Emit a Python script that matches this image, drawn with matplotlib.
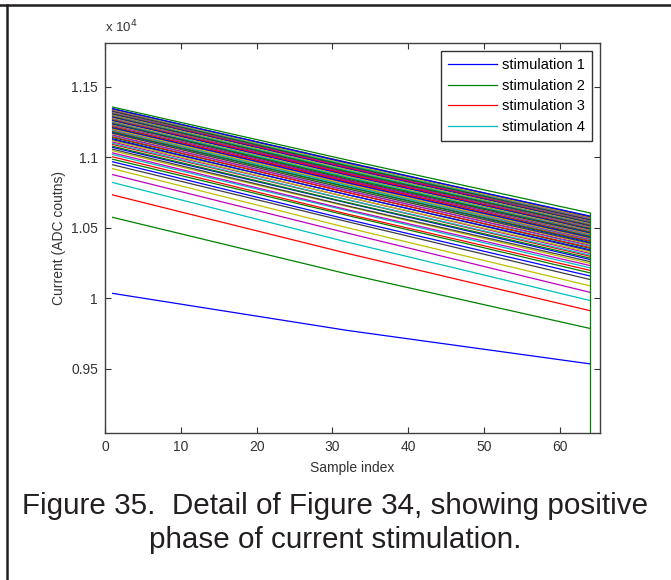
import numpy as np
import matplotlib.pyplot as plt
from matplotlib.lines import Line2D

#==============================================================================
# readings, current in units of 1e4 ADC counts
# one entry per stimulation, values at sample 1, sample 32 and sample 64
#==============================================================================
sample_knots = [1, 32, 64]

start_vals = [1.0035, 1.0574, 1.0733, 1.0821, 1.0877, 1.0919, 1.0947, 1.0968,
              1.0986, 1.1003, 1.1019, 1.1031, 1.1046, 1.1057, 1.1070, 1.1078,
              1.1091, 1.1099, 1.1108, 1.1117, 1.1125, 1.1131, 1.1140, 1.1146,
              1.1153, 1.1158, 1.1166, 1.1170, 1.1177, 1.1181, 1.1188, 1.1192,
              1.1198, 1.1201, 1.1207, 1.1211, 1.1216, 1.1219, 1.1225, 1.1228,
              1.1232, 1.1236, 1.1239, 1.1243, 1.1247, 1.1249, 1.1254, 1.1256,
              1.1261, 1.1263, 1.1268, 1.1270, 1.1274, 1.1278, 1.1280, 1.1285,
              1.1287, 1.1291, 1.1294, 1.1297, 1.1301, 1.1303, 1.1307, 1.1310,
              1.1312, 1.1316, 1.1318, 1.1321, 1.1324, 1.1326, 1.1329, 1.1331,
              1.1333, 1.1336, 1.1338, 1.1340, 1.1343, 1.1345, 1.1356]

mid_vals = [0.9772, 1.0172, 1.0318, 1.0398, 1.0462, 1.0500, 1.0543, 1.0559,
            1.0587, 1.0597, 1.0621, 1.0628, 1.0651, 1.0655, 1.0676, 1.0679,
            1.0698, 1.0699, 1.0717, 1.0718, 1.0735, 1.0734, 1.0751, 1.0750,
            1.0765, 1.0763, 1.0779, 1.0776, 1.0791, 1.0788, 1.0803, 1.0799,
            1.0813, 1.0809, 1.0823, 1.0819, 1.0833, 1.0828, 1.0842, 1.0837,
            1.0850, 1.0845, 1.0858, 1.0853, 1.0866, 1.0860, 1.0873, 1.0867,
            1.0880, 1.0874, 1.0887, 1.0881, 1.0894, 1.0889, 1.0900, 1.0895,
            1.0907, 1.0902, 1.0913, 1.0908, 1.0920, 1.0914, 1.0926, 1.0921,
            1.0931, 1.0927, 1.0937, 1.0932, 1.0943, 1.0937, 1.0948, 1.0942,
            1.0952, 1.0948, 1.0958, 1.0953, 1.0964, 1.0960, 1.0980]

end_vals = [0.9535, 0.9786, 0.9912, 0.9984, 1.0042, 1.0088, 1.0133, 1.0158,
            1.0180, 1.0198, 1.0216, 1.0232, 1.0247, 1.0260, 1.0275, 1.0285,
            1.0298, 1.0306, 1.0318, 1.0326, 1.0337, 1.0344, 1.0354, 1.0360,
            1.0369, 1.0376, 1.0383, 1.0390, 1.0396, 1.0403, 1.0408, 1.0415,
            1.0419, 1.0426, 1.0430, 1.0436, 1.0440, 1.0446, 1.0449, 1.0455,
            1.0458, 1.0463, 1.0467, 1.0471, 1.0475, 1.0479, 1.0483, 1.0486,
            1.0490, 1.0494, 1.0497, 1.0501, 1.0504, 1.0508, 1.0511, 1.0514,
            1.0518, 1.0521, 1.0524, 1.0527, 1.0531, 1.0533, 1.0537, 1.0540,
            1.0542, 1.0546, 1.0548, 1.0551, 1.0554, 1.0556, 1.0559, 1.0562,
            1.0564, 1.0567, 1.0570, 1.0574, 1.0578, 1.0583, 1.0605]

# the last trace falls off the bottom at sample 64
drop_val = 0.80

legend_labels = ['stimulation 1', 'stimulation 2', 'stimulation 3',
                 'stimulation 4']

x_ticks = [0, 10, 20, 30, 40, 50, 60]
y_ticks = [0.95, 1.0, 1.05, 1.1, 1.15]
y_tick_labels = ['0.95', '1', '1.05', '1.1', '1.15']

# old matlab colour order
matlab_colors = ['#0000ff', '#008000', '#ff0000', '#00bfbf', '#bf00bf',
                 '#bfbf00', '#404040']

caption = ['Figure 35.  Detail of Figure 34, showing positive',
           'phase of current stimulation.']

#==============================================================================
plt.rcParams['font.family'] = ['Liberation Sans', 'DejaVu Sans']

fig = plt.figure(figsize=(6.71, 5.80), dpi=100)
ax = fig.add_axes([105 / 671, 1 - 433 / 580, 495 / 671, 390 / 580])

n = len(start_vals)
for i in range(n):
    trace = [start_vals[i], mid_vals[i], end_vals[i]]
    lab = legend_labels[i] if i < len(legend_labels) else None
    ax.plot(sample_knots, trace, color=matlab_colors[i % 7], lw=0.9,
            label=lab)
ax.plot([sample_knots[-1], sample_knots[-1]], [end_vals[-1], drop_val],
        color=matlab_colors[(n - 1) % 7], lw=0.9)

ax.set_xlim(0, 65.3)
ax.set_ylim(0.9045, 1.181)
ax.set_xticks(x_ticks)
ax.set_yticks(y_ticks)
ax.set_yticklabels(y_tick_labels)
ax.tick_params(direction='in', top=True, right=True, length=4, width=0.8,
               labelsize=10, colors='#333333', pad=5)
for sp in ax.spines.values():
    sp.set_color('#404040')
    sp.set_linewidth(1.0)

ax.set_xlabel('Sample index', fontsize=10, color='#333333', labelpad=5)
ax.set_ylabel('Current (ADC coutns)', fontsize=10, color='#333333',
              labelpad=4)
ax.text(0.0, 1.02, r'x 10$^4$', transform=ax.transAxes, fontsize=9.5,
        color='#333333', ha='left', va='bottom')

leg = ax.legend(loc='upper right', bbox_to_anchor=(592 / 671, 1 - 51 / 580),
                bbox_transform=fig.transFigure, borderaxespad=0,
                fontsize=10.5, handlelength=3.4, handletextpad=0.3,
                labelspacing=0.45, borderpad=0.5, fancybox=False,
                framealpha=1)
leg.get_frame().set_edgecolor('#333333')
leg.get_frame().set_linewidth(1.0)

# caption under the plot
fig.text(0.5, 1 - 506 / 580, caption[0], ha='center', va='center',
         fontsize=21.3, color='#231f20')
fig.text(0.5, 1 - 540 / 580, caption[1], ha='center', va='center',
         fontsize=21.3, color='#231f20')

# page frame lines
fig.add_artist(Line2D([0, 1], [1 - 5 / 580, 1 - 5 / 580], color='#231f20',
                      lw=1.8, transform=fig.transFigure))
fig.add_artist(Line2D([7 / 671, 7 / 671], [0, 1 - 5 / 580], color='#231f20',
                      lw=1.8, transform=fig.transFigure))

fig.savefig('out.png', dpi=100)
